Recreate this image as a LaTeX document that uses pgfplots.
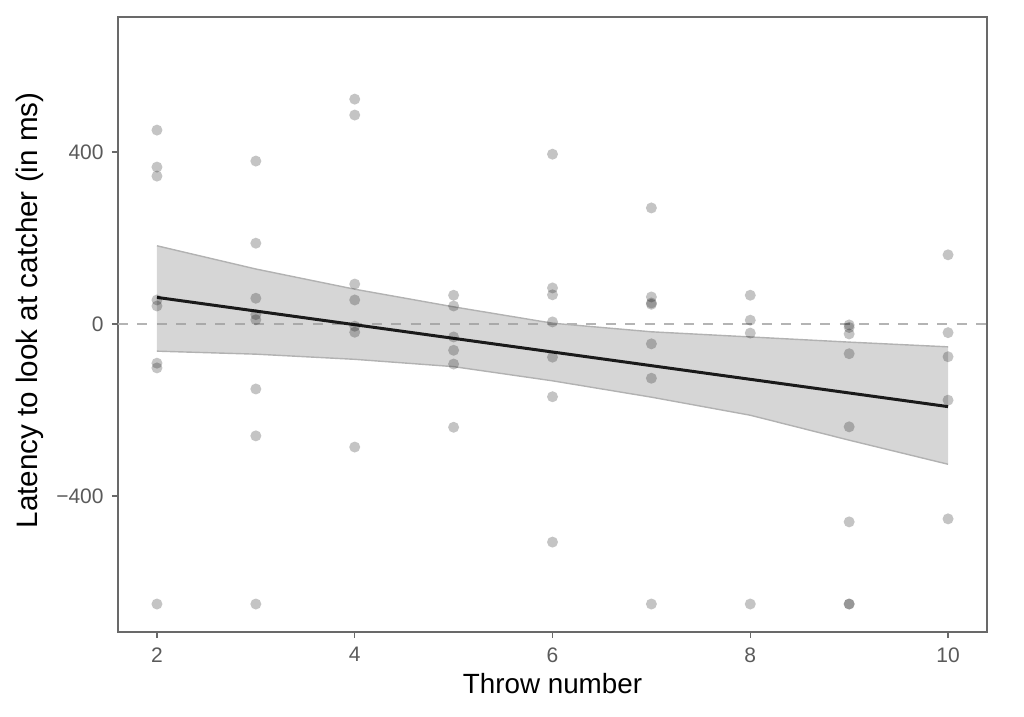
\documentclass[border=0pt]{standalone}
\usepackage{fontspec}
\setmainfont{Liberation Sans}
\usepackage{pgfplots}
\usepackage{pgfplotstable}
\pgfplotsset{compat=1.18}
\definecolor{framegrey}{RGB}{105,105,105}
\definecolor{tickgrey}{RGB}{90,90,90}
\definecolor{dashgrey}{RGB}{180,180,180}
\definecolor{edgegrey}{RGB}{178,178,178}
\definecolor{linegrey}{RGB}{26,26,26}

% observed latencies per throw
\pgfplotstableread{
x y
2 451
2 365
2 344
2 56
2 42
2 -91
2 -102
2 -651
3 379
3 188
3 60
3 22
3 10
3 -151
3 -260
3 -651
4 523
4 486
4 93
4 56
4 -5
4 -19
4 -286
5 67
5 42
5 -30
5 -61
5 -93
5 -240
6 395
6 84
6 68
6 5
6 -77
6 -169
6 -507
7 270
7 63
7 49
7 46
7 -46
7 -126
7 -651
8 67
8 9
8 -21
8 -651
9 -2
9 -8
9 -23
9 -69
9 -239
9 -460
9 -651
9 -651
10 161
10 -20
10 -76
10 -177
10 -453
}\points

% confidence band
\pgfplotstableread{
x up lo
2 182 -63
3 128 -70
4 81 -82
5 40 -99
6 2 -132
7 -18 -170
8 -30 -212
9 -42 -270
10 -53 -326
}\band

\begin{document}
\begin{tikzpicture}
\begin{axis}[
    scale only axis,
    width=434.5pt, height=307.5pt,
    xmin=1.606, xmax=10.394,
    ymin=-716, ymax=714,
    xtick={2,4,6,8,10},
    ytick={-400,0,400},
    yticklabels={−400,0,400},
    xtick pos=left, ytick pos=left,
    tick align=outside,
    major tick length=3pt,
    axis line style={draw=framegrey, line width=0.7pt},
    tick style={draw=framegrey, line width=0.7pt},
    /pgf/number format/assume math mode=true,
    ticklabel style={font=\fontsize{10.5}{12}\selectfont, text=tickgrey, inner sep=0pt},
    xticklabel shift=4.5pt,
    yticklabel shift=4pt,
    xlabel={Throw number},
    ylabel={Latency to look at catcher (in ms)},
    xlabel style={font=\fontsize{13.9}{16}\selectfont, at={(axis description cs:0.5,-0.1008)}, anchor=base},
    ylabel style={font=\fontsize{14.8}{17}\selectfont, at={(axis description cs:-0.0932,0.5228)}, anchor=base},
]
\addplot[dashgrey, line width=1pt, dash pattern=on 5pt off 4.75pt] coordinates {(1.606,0) (10.394,0)};

\addplot[only marks, mark=*, mark size=2.75pt, draw opacity=0,
    mark options={draw opacity=0, line width=0pt, fill=black, fill opacity=0.23}] table[x=x, y=y] {\points};

\addplot[draw=none, fill=black!40, fill opacity=0.4, forget plot] table[x=x, y=up] {\band}
    -- (axis cs:10,-326) -- (axis cs:9,-270) -- (axis cs:8,-212) -- (axis cs:7,-170)
    -- (axis cs:6,-132) -- (axis cs:5,-99) -- (axis cs:4,-82) -- (axis cs:3,-70)
    -- (axis cs:2,-63) -- cycle;
\addplot[edgegrey, line width=0.7pt] table[x=x, y=up] {\band};
\addplot[edgegrey, line width=0.7pt] table[x=x, y=lo] {\band};

\addplot[linegrey, line width=1.5pt] coordinates {(2,62) (10,-192)};
\end{axis}
\pgfresetboundingbox
\path[use as bounding box] ([xshift=-59pt,yshift=-42.5pt]current axis.south west)
    rectangle ([xshift=18.5pt,yshift=8.5pt]current axis.north east);
\end{tikzpicture}
\end{document}
